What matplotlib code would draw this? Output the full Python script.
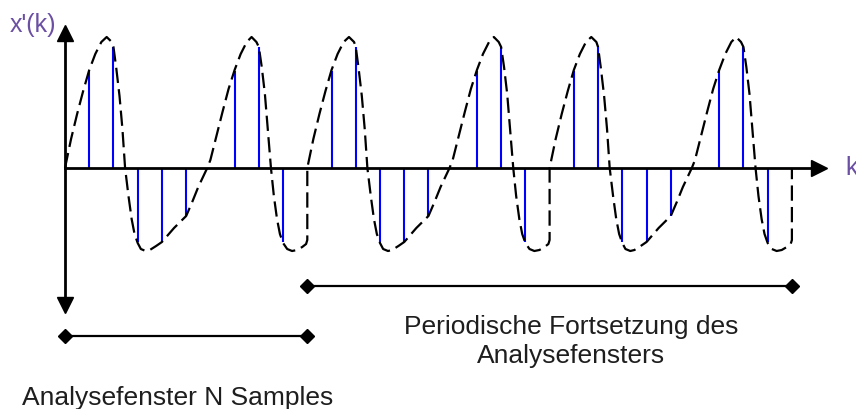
import numpy as np
import matplotlib.pyplot as plt

plt.rcParams['font.family'] = ['Liberation Sans', 'DejaVu Sans']
plt.rcParams['lines.scale_dashes'] = False

# --- Daten --- #
N_SAMPLES = 10        # Analysefenster
N_WINDOWS = 3         # Fenster + periodische Fortsetzung

# Abtastwerte x'(k) im Analysefenster, k = 0..9
samples = [0.0, 0.97, 1.21, -0.74, -0.74, -0.48, 0.0, 0.97, 1.21, -0.74]

# kontinuierlicher Verlauf (gestrichelt) innerhalb eines Fensters
curve_k = [0.0, 0.25, 0.5, 0.75, 1.0, 1.25, 1.5, 1.72, 1.93, 2.0, 2.12, 2.25,
           2.37, 2.48, 2.62, 2.75, 2.87, 3.0, 3.13, 3.33, 3.5, 3.76, 4.0,
           4.25, 4.5, 4.75, 5.0, 5.25, 5.5, 5.75, 5.87, 6.0, 6.25, 6.5, 6.75,
           7.0, 7.25, 7.5, 7.7, 7.9, 8.0, 8.12, 8.25, 8.37, 8.5, 8.62, 8.75,
           8.87, 9.0, 9.17, 9.37, 9.58, 9.79, 9.95, 10.0, 10.0]
curve_v = [0.0, 0.29, 0.54, 0.77, 0.98, 1.14, 1.26, 1.31, 1.26, 1.21, 0.99, 0.72,
           0.39, 0.0, -0.28, -0.51, -0.66, -0.75, -0.81, -0.83, -0.82, -0.78, -0.74,
           -0.67, -0.60, -0.54, -0.48, -0.34, -0.19, -0.06, 0.0, 0.08, 0.32, 0.56, 0.79,
           0.98, 1.14, 1.26, 1.31, 1.26, 1.21, 1.01, 0.74, 0.39, 0.0, -0.28, -0.51,
           -0.66, -0.75, -0.81, -0.83, -0.82, -0.79, -0.76, -0.72, 0.0]

label_y = "x'(k)"
label_x = "k"
text_window = "Analysefenster N Samples"
text_period = "Periodische Fortsetzung des\nAnalysefensters"

# --- Layout --- #
PX_K = 24.23          # Pixel pro Abtastschritt
PX_V = 100.0          # Pixel pro Amplitudeneinheit
W, H = 856, 410
X0, Y0 = 65, 169      # Ursprung in Pixeln

purple = '#6b4fa3'
ink = '#1e1e1e'

fig = plt.figure(figsize=(W / 100, H / 100), dpi=100)
ax = fig.add_axes([0, 0, 1, 1])
ax.set_xlim(-X0 / PX_K, (W - X0) / PX_K)
ax.set_ylim(-(H - Y0) / PX_V, Y0 / PX_V)
ax.axis('off')

# Abtastwerte (blau) für alle Fenster
k_all = np.arange(N_SAMPLES * N_WINDOWS)
v_all = np.tile(samples, N_WINDOWS)
nz = v_all != 0
ax.vlines(k_all[nz], 0, v_all[nz], color='#0000ff', lw=1.5, zorder=2)

# gestrichelter Verlauf, periodisch fortgesetzt
ck = np.concatenate([np.array(curve_k) + N_SAMPLES * w for w in range(N_WINDOWS)])
cv = np.tile(curve_v, N_WINDOWS)
ax.plot(ck, cv, color='black', lw=1.6, linestyle=(0, (11, 4.5)), zorder=3)

# Achsen mit Pfeilen
x_tip = 31.41
y_top, y_bot = 1.43, -1.44
ax.plot([0, x_tip - 0.3], [0, 0], color='black', lw=2.0, zorder=4)
ax.plot([0, 0], [y_bot + 0.07, y_top - 0.07], color='black', lw=2.0, zorder=4)
ax.plot([x_tip - 7.5 / PX_K], [0], marker='>', ms=11, color='black', zorder=5)
ax.plot([0], [y_top - 7.5 / PX_V], marker='^', ms=11, color='black', zorder=5)
ax.plot([0], [y_bot + 7.5 / PX_V], marker='v', ms=11, color='black', zorder=5)

ax.text(-2.27, 1.37, label_y, color=purple, fontsize=18, ha='left', va='baseline')
ax.text(32.19, -0.06, label_x, color=purple, fontsize=18, ha='left', va='baseline',
        clip_on=False)

# Markierungen Fenster / Fortsetzung
y_win, y_per = -1.68, -1.18
ax.plot([0, N_SAMPLES], [y_win, y_win], color='black', lw=1.6,
        marker='D', ms=7.5, zorder=4)
ax.plot([N_SAMPLES, N_SAMPLES * N_WINDOWS], [y_per, y_per], color='black', lw=1.6,
        marker='D', ms=7.5, zorder=4)

ax.text(-1.775, -2.36, text_window, color=ink, fontsize=19, ha='left', va='baseline')
ax.text(20.88, -1.94, text_period, color=ink, fontsize=19, ha='center',
        va='baseline', linespacing=1.26, multialignment='center')

fig.savefig('out.png', dpi=100)
